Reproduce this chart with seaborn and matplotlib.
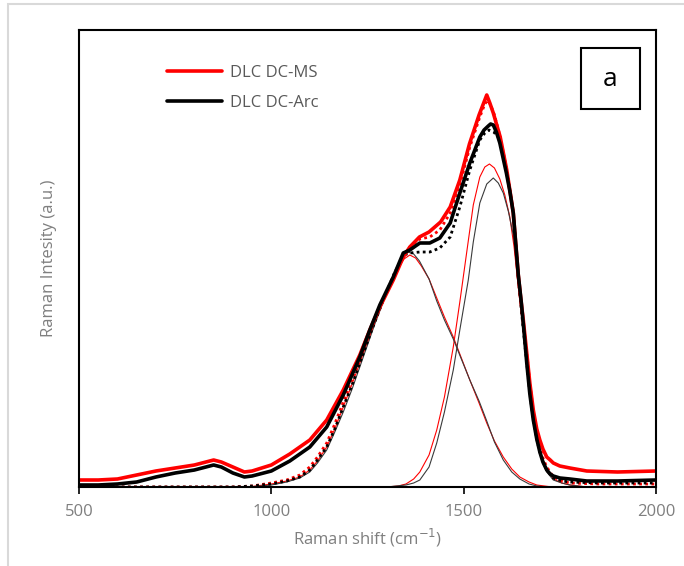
import matplotlib
matplotlib.use("Agg")
import matplotlib.pyplot as plt
import seaborn as sns
from matplotlib.patches import Rectangle
from matplotlib.lines import Line2D

# ---------------- data ----------------
ms_x = [500, 550, 600, 650, 700, 750, 800, 850, 870, 900, 930, 950, 1000, 1048, 1100,
        1144, 1187, 1230, 1256, 1282, 1317, 1343, 1360, 1385, 1410, 1440, 1465, 1490,
        1515, 1540, 1550, 1560, 1568, 1577, 1586, 1595, 1612, 1620, 1629, 1635, 1642,
        1650, 1655, 1664, 1672, 1681, 1690, 1698, 1706, 1716, 1725, 1733, 1750, 1776,
        1820, 1900, 2000]
ms_y = [7, 7, 8, 12, 16, 19, 22, 27, 25, 20, 15, 16, 22, 33, 47,
        67, 97, 132, 157, 180, 207, 230, 240, 250, 255, 265, 280, 307,
        343, 372, 382, 392, 384, 374, 362, 350, 317, 297, 274, 245, 212,
        183, 167, 134, 104, 77, 58, 47, 38, 30, 27, 24, 21, 19,
        16, 15, 16]

arc_x = [500, 550, 600, 650, 700, 750, 800, 850, 870, 900, 930, 950, 1000, 1048, 1100,
         1144, 1187, 1230, 1256, 1282, 1317, 1343, 1360, 1386, 1412, 1438, 1465, 1490,
         1516, 1542, 1553, 1564, 1570, 1577, 1585, 1594, 1611, 1620, 1629, 1635, 1642,
         1650, 1657, 1664, 1672, 1681, 1690, 1698, 1706, 1716, 1725, 1733, 1750, 1776,
         1820, 1900, 2000]
arc_y = [2, 2, 3, 5, 10, 14, 17, 22, 20, 14, 10, 11, 16, 26, 40,
         60, 92, 130, 157, 182, 210, 234, 237, 244, 244, 249, 264, 294,
         324, 350, 357, 361, 363, 362, 355, 344, 314, 296, 274, 245, 212,
         184, 155, 124, 93, 67, 48, 35, 25, 17, 13, 11, 9, 8,
         6, 6, 7]

# fitted D band (thin lines)
ms_d_x = [500, 900, 950, 1000, 1040, 1074, 1100, 1120, 1144, 1165, 1187, 1210, 1230, 1250,
          1270, 1290, 1310, 1330, 1345, 1360, 1375, 1390, 1410, 1430, 1450, 1473, 1495,
          1516, 1540, 1560, 1580, 1603, 1625, 1646, 1670, 1690, 1720, 1750, 2000]
ms_d_y = [0, 0, 0.5, 3, 6, 10, 17, 26, 40, 58, 80, 103, 124, 145,
          166, 185, 203, 219, 228, 232, 229, 221, 208, 189, 170, 150, 128,
          107, 84, 64, 46, 30, 18, 10, 5, 2, 0.5, 0, 0]
arc_d_x = [500, 900, 950, 1000, 1040, 1074, 1100, 1120, 1144, 1165, 1187, 1210, 1230, 1250,
           1270, 1290, 1310, 1330, 1340, 1355, 1370, 1385, 1410, 1430, 1450, 1473, 1495,
           1516, 1540, 1560, 1580, 1603, 1625, 1646, 1670, 1690, 1720, 1750, 2000]
arc_d_y = [0, 0, 0.3, 2, 5, 9, 15, 24, 37, 55, 75, 98, 120, 142,
           164, 184, 204, 222, 229, 235, 233, 226, 208, 186, 167, 148, 127,
           107, 86, 66, 45, 27, 15, 8, 3, 1, 0, 0, 0]

# fitted G band (thin lines)
ms_g_x = [500, 1300, 1330, 1350, 1370, 1386, 1410, 1430, 1450, 1473, 1490, 1508, 1525,
          1542, 1555, 1567, 1580, 1594, 1607, 1620, 1631, 1642, 1653, 1664, 1672, 1681,
          1690, 1698, 1707, 1716, 1733, 1755, 1776, 1820, 2000]
ms_g_y = [0, 0, 1, 3, 8, 15, 32, 57, 90, 140, 185, 235, 282,
          310, 320, 323, 319, 308, 292, 270, 240, 200, 163, 128, 100, 74,
          54, 38, 27, 18, 8, 4, 2, 0, 0]
arc_g_x = [500, 1300, 1350, 1370, 1386, 1410, 1430, 1450, 1473, 1490, 1512, 1525, 1542,
           1560, 1577, 1590, 1603, 1616, 1629, 1642, 1655, 1664, 1672, 1681, 1690, 1698,
           1707, 1716, 1733, 1755, 1776, 1820, 2000]
arc_g_y = [0, 0, 2, 4, 7, 20, 44, 75, 117, 157, 207, 245, 284,
           303, 309, 304, 294, 276, 252, 212, 165, 128, 98, 68, 48, 33,
           23, 15, 7, 4, 2, 0, 0]

# cumulative fit envelopes (dotted)
ms_fit_x = [500, 900, 950, 1000, 1040, 1074, 1100, 1120, 1144, 1165, 1187, 1210, 1230,
            1260, 1290, 1320, 1345, 1360, 1386, 1412, 1438, 1465, 1490, 1516, 1542, 1555,
            1563, 1572, 1580, 1595, 1612, 1629, 1642, 1653, 1664, 1672, 1681, 1690, 1698,
            1707, 1716, 1733, 1755, 1776, 1850, 2000]
ms_fit_y = [0, 0, 1, 4, 7, 12, 20, 30, 44, 63, 85, 108, 128,
            158, 187, 212, 232, 240, 248, 250, 257, 274, 302, 340, 370, 383,
            387, 380, 372, 350, 317, 274, 212, 170, 134, 104, 75, 55, 40,
            28, 20, 10, 6, 4, 3, 3]
arc_fit_x = [500, 900, 950, 1000, 1040, 1074, 1100, 1120, 1144, 1165, 1187, 1210, 1230,
             1260, 1290, 1320, 1345, 1360, 1386, 1412, 1438, 1465, 1490, 1516, 1542, 1555,
             1566, 1578, 1590, 1600, 1611, 1629, 1642, 1653, 1664, 1672, 1681, 1690, 1698,
             1707, 1716, 1733, 1755, 1776, 1850, 2000]
arc_fit_y = [0, 0, 1, 3, 6, 10, 17, 27, 40, 58, 80, 102, 124,
             156, 186, 214, 232, 234, 235, 235, 239, 250, 280, 317, 347, 354,
             357, 355, 350, 337, 317, 274, 210, 165, 124, 94, 67, 48, 35,
             25, 17, 9, 6, 5, 4, 4]

x_ticks = [500, 1000, 1500, 2000]
series_labels = ["DLC DC-MS", "DLC DC-Arc"]

# ---------------- figure ----------------
sns.set_theme(style="white")
plt.rcParams["font.family"] = ["Open Sans", "DejaVu Sans"]

fig = plt.figure(figsize=(6.84, 5.66), dpi=100)
ax = fig.add_axes([79 / 684, 1 - 487 / 566, 577 / 684, 457 / 566])

RED = "#ff0000"
DARK = "#000000"
THIN_DARK = "#3a3a3a"

# thin fitted components
for fx, fy, c in [(ms_d_x, ms_d_y, RED), (ms_g_x, ms_g_y, RED),
                  (arc_d_x, arc_d_y, THIN_DARK), (arc_g_x, arc_g_y, THIN_DARK)]:
    sns.lineplot(x=fx, y=fy, ax=ax, color=c, lw=0.8, sort=False, estimator=None)

# dotted envelopes
sns.lineplot(x=ms_fit_x, y=ms_fit_y, ax=ax, color=RED, lw=2.0, sort=False,
             estimator=None, linestyle=(0, (1, 1.2)))
sns.lineplot(x=arc_fit_x, y=arc_fit_y, ax=ax, color=DARK, lw=2.0, sort=False,
             estimator=None, linestyle=(0, (1, 1.2)))

# measured spectra
sns.lineplot(x=ms_x, y=ms_y, ax=ax, color=RED, lw=2.6, sort=False, estimator=None)
sns.lineplot(x=arc_x, y=arc_y, ax=ax, color=DARK, lw=2.6, sort=False, estimator=None)

ax.set_xlim(500, 2000)
ax.set_ylim(0, 457)
ax.set_xticks(x_ticks)
ax.set_xticklabels([str(t) for t in x_ticks])
ax.set_yticks([])
ax.tick_params(axis="x", direction="out", length=5, width=1.2, color="black",
               labelsize=12, labelcolor="#7f7f7f", pad=7, bottom=True)
for s in ax.spines.values():
    s.set_visible(True)
    s.set_color("black")
    s.set_linewidth(1.5)

ax.set_xlabel("Raman shift (cm$^{-1}$)", fontsize=12, color="#7f7f7f", labelpad=5)
ax.set_ylabel("Raman Intesity (a.u.)", fontsize=12, color="#7f7f7f", labelpad=16)

handles = [Line2D([0], [0], color=RED, lw=2.6), Line2D([0], [0], color=DARK, lw=2.6)]
leg = ax.legend(handles, series_labels, loc="upper left",
                bbox_to_anchor=((160 - 79) / 577, (487 - 58) / 457),
                frameon=False, fontsize=12, handlelength=3.3, handletextpad=0.5,
                labelspacing=0.85, borderaxespad=0)
for t in leg.get_texts():
    t.set_color("#595959")

# "a" box
ax.add_patch(Rectangle(((581 - 79) / 577, (487 - 109) / 457), 59 / 577, 61 / 457,
                       transform=ax.transAxes, fill=False, edgecolor="black", lw=1.5,
                       zorder=5))
ax.text((610.5 - 79) / 577, (487 - 79) / 457, "a", transform=ax.transAxes,
        ha="center", va="center", fontsize=19, color="black", zorder=6)

# light chart-area border
fig.patches.append(Rectangle((8 / 684, -0.1), 1.2, (562 / 566) + 0.1,
                             transform=fig.transFigure, fill=False,
                             edgecolor="#d9d9d9", lw=1.5))

fig.savefig("out.png", dpi=100)
